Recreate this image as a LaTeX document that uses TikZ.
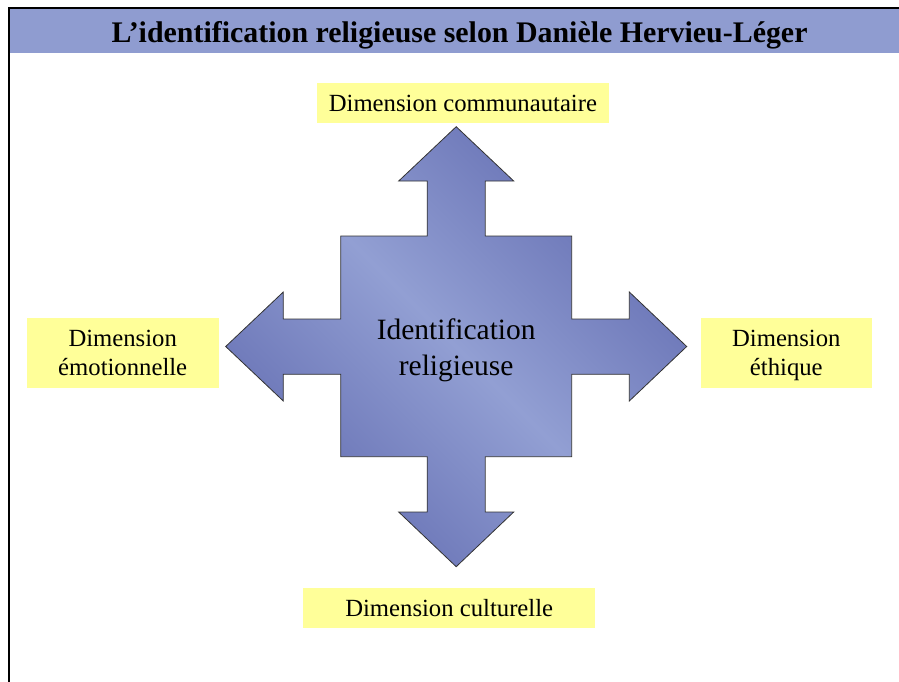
\documentclass[tikz,border=0pt]{standalone}
\usepackage{fontspec}
\setmainfont{Liberation Serif}
\usepackage{xcolor}
\usepackage{tikz}

\definecolor{titleblue}{RGB}{143,156,208}
\definecolor{crossdark}{RGB}{100,110,178}
\definecolor{crosslight}{RGB}{146,159,211}
\definecolor{dimyellow}{RGB}{255,255,153}

\begin{document}
\begin{tikzpicture}[x=1pt, y=-1pt,
    dimbox/.style={rectangle, fill=dimyellow, inner sep=0pt, align=center,
        font=\fontsize{24.7}{29.4}\selectfont}]
    \useasboundingbox (0,0) rectangle (899,682);

    % Title bar
    \fill[titleblue] (9,8) rectangle (899,53.3);
    \node[anchor=base, font=\fontsize{29.9}{34}\selectfont\bfseries] (title) at (459.5,42.3) {L’identification religieuse selon Danièle Hervieu-Léger};
    \draw[line width=1.5pt] (899,8) -- (9,8) -- (9,682);

    % Four-way arrow
    \shade[draw=black!80, line width=0.8pt, top color=crossdark, bottom color=crossdark, middle color=crosslight, shading angle=-45]
        (456.2,126.7) -- (513.7,181) -- (485.2,181) -- (485.2,236) -- (571.7,236) -- (571.7,319)
        -- (629.3,319) -- (629.3,292) -- (686.7,346.5) -- (629.3,401) -- (629.3,374.3) -- (571.7,374.3)
        -- (571.7,456.7) -- (485.2,456.7) -- (485.2,512) -- (513.7,512) -- (456.2,566.7) -- (398.7,512)
        -- (427.2,512) -- (427.2,456.7) -- (340.7,456.7) -- (340.7,374.3) -- (283.3,374.3) -- (283.3,401)
        -- (225.7,346.5) -- (283.3,292) -- (283.3,319) -- (340.7,319) -- (340.7,236) -- (427.2,236)
        -- (427.2,181) -- (398.7,181) -- cycle;
    \node[align=center, font=\fontsize{29.5}{36}\selectfont] (ident) at (456.2,350.3) {Identification\\religieuse};

    % Dimensions
    \node[dimbox, minimum width=292.3pt, minimum height=39.4pt, node distance=247.3pt, above of=ident, xshift=6.7pt] (communautaire) {Dimension communautaire};
    \node[dimbox, minimum width=192pt, minimum height=69.4pt, node distance=333.5pt, left of=ident, yshift=-2.7pt] (emotionnelle) {Dimension\\émotionnelle};
    \node[dimbox, minimum width=170.7pt, minimum height=69.4pt, node distance=330.1pt, right of=ident, yshift=-2.7pt] (ethique) {Dimension\\\raisebox{0pt}[\height][0pt]{éthique}};
    \node[dimbox, minimum width=291.7pt, minimum height=39.4pt, node distance=257.7pt, below of=ident, xshift=-7pt] (culturelle) {Dimension culturelle};
\end{tikzpicture}
\end{document}
